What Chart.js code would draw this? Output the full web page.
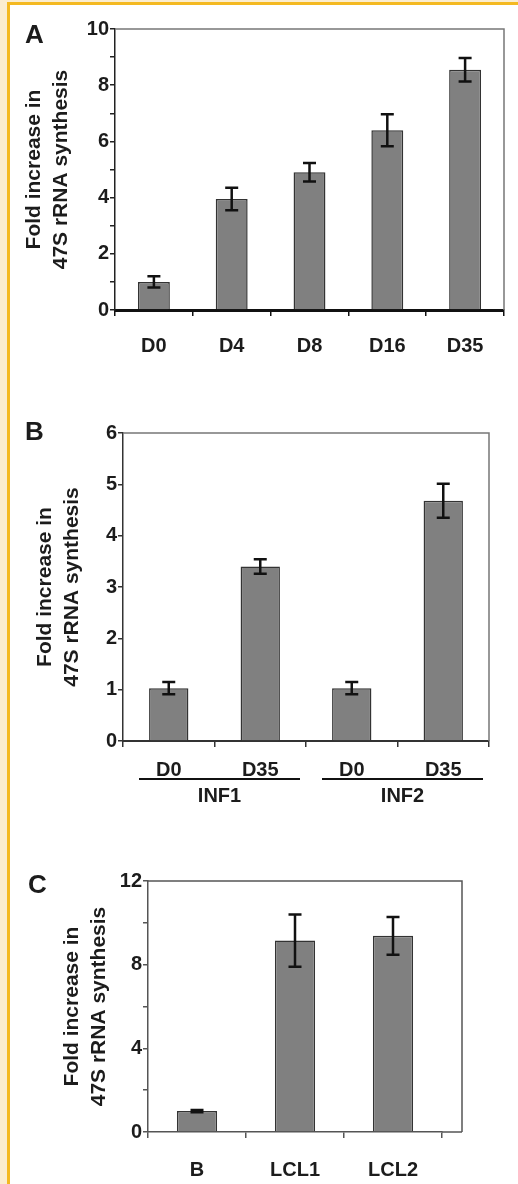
<!DOCTYPE html>
<html>
<head>
<meta charset="utf-8">
<script src="https://cdn.jsdelivr.net/npm/chart.js@4"></script>
<style>
  html, body { margin: 0; padding: 0; background: #fff; }
  body { width: 518px; height: 1184px; position: relative; overflow: hidden; }
  .cream-left { position: absolute; left: 0; top: 0; width: 7px; height: 1184px; background: #fbedcf; }
  .cream-top { position: absolute; left: 0; top: 0; width: 518px; height: 2px; background: #fbedcf; }
  .gold-left { position: absolute; left: 7px; top: 2px; width: 3px; height: 1182px; background: #f4b921; }
  .gold-top { position: absolute; left: 7px; top: 2px; width: 511px; height: 3px; background: #f4b921; }
  .panel { position: absolute; left: 0; }
  canvas { display: block; }
</style>
</head>
<body>
<div class="cream-left"></div>
<div class="cream-top"></div>
<div class="gold-left"></div>
<div class="gold-top"></div>

<div class="panel" style="top:0"><canvas id="chartA" width="518" height="380"></canvas></div>
<div class="panel" style="top:380px"><canvas id="chartB" width="518" height="430"></canvas></div>
<div class="panel" style="top:810px"><canvas id="chartC" width="518" height="374"></canvas></div>

<script>
// panel A
const catsA = ['D0', 'D4', 'D8', 'D16', 'D35'];
const valsA = [1.0, 3.95, 4.9, 6.4, 8.55];
const errA = [0.2, 0.4, 0.33, 0.57, 0.42];

// panel B
const catsB = ['D0', 'D35', 'D0', 'D35'];
const valsB = [1.03, 3.4, 1.03, 4.68];
const errB = [0.12, 0.14, 0.12, 0.33];
const groupsB = ['INF1', 'INF2'];
const groupSizeB = [2, 2];

// panel C
const catsC = ['B', 'LCL1', 'LCL2'];
const valsC = [1.0, 9.15, 9.38];
const errC = [0.05, 1.25, 0.9];

const yTitle = ['Fold increase in', '47S rRNA synthesis'];

const FONT = "'Liberation Sans', Arial, sans-serif";
const TEXT = '#1c1c1c';

// error bars drawn on top of the bars
const errorBars = {
  id: 'errorBars',
  afterDatasetsDraw(chart, args, opts) {
    const ctx = chart.ctx;
    const meta = chart.getDatasetMeta(0);
    const y = chart.scales.y;
    const vals = chart.data.datasets[0].data;
    ctx.save();
    ctx.strokeStyle = '#111';
    ctx.lineWidth = 2.5;
    meta.data.forEach((bar, i) => {
      const e = opts.err[i];
      const top = y.getPixelForValue(vals[i] + e);
      const bot = y.getPixelForValue(vals[i] - e);
      const half = 6.5;
      ctx.beginPath();
      ctx.moveTo(bar.x, top); ctx.lineTo(bar.x, bot);
      ctx.moveTo(bar.x - half, top); ctx.lineTo(bar.x + half, top);
      ctx.moveTo(bar.x - half, bot); ctx.lineTo(bar.x + half, bot);
      ctx.stroke();
    });
    ctx.restore();
  }
};

// top and right border of the plot box, plus the panel letter
const frame = {
  id: 'frame',
  beforeDatasetsDraw(chart, args, opts) {
    const { left, top, right, bottom } = chart.chartArea;
    const ext = opts.extend || 0;
    const ctx = chart.ctx;
    ctx.save();
    ctx.lineWidth = 1.5;
    ctx.strokeStyle = opts.color;
    ctx.beginPath();
    ctx.moveTo(left, top); ctx.lineTo(right + ext, top); ctx.lineTo(right + ext, bottom);
    ctx.stroke();
    if (ext) {
      // box runs a little past the last category
      ctx.beginPath();
      ctx.moveTo(right, bottom); ctx.lineTo(right + ext, bottom);
      ctx.stroke();
    }
    ctx.restore();
  },
  afterDraw(chart, args, opts) {
    const ctx = chart.ctx;
    ctx.save();
    ctx.fillStyle = TEXT;
    ctx.font = 'bold 26px ' + FONT;
    ctx.textBaseline = 'alphabetic';
    ctx.fillText(opts.letter, opts.lx, opts.ly);
    ctx.restore();
  }
};

// group labels under panel B
const groupLabels = {
  id: 'groupLabels',
  afterDraw(chart, args, opts) {
    if (!opts.names) return;
    const x = chart.scales.x;
    const ctx = chart.ctx;
    const step = x.getPixelForValue(1) - x.getPixelForValue(0);
    let start = 0;
    ctx.save();
    ctx.strokeStyle = '#111';
    ctx.lineWidth = 2;
    ctx.fillStyle = TEXT;
    ctx.font = 'bold 20px ' + FONT;
    ctx.textAlign = 'center';
    ctx.textBaseline = 'middle';
    opts.names.forEach((name, g) => {
      const end = start + opts.sizes[g] - 1;
      const x0 = x.getPixelForValue(start) - step / 2 + 16;
      const x1 = x.getPixelForValue(end) + step / 2 - 6;
      ctx.beginPath();
      ctx.moveTo(x0, opts.lineY); ctx.lineTo(x1, opts.lineY);
      ctx.stroke();
      ctx.fillText(name, (x0 + x1) / 2, opts.textY);
      start = end + 1;
    });
    ctx.restore();
  }
};

function makePanel(id, cfg) {
  const ctx = document.getElementById(id);
  return new Chart(ctx, {
    type: 'bar',
    data: {
      labels: cfg.labels,
      datasets: [{
        data: cfg.values,
        backgroundColor: '#808080',
        borderColor: '#333',
        borderWidth: 1.5,
        barPercentage: cfg.barPct,
        categoryPercentage: 1
      }]
    },
    options: {
      responsive: false,
      animation: false,
      devicePixelRatio: 1,
      layout: { padding: { top: cfg.top, right: cfg.right, left: 0, bottom: 0 } },
      plugins: {
        legend: { display: false },
        tooltip: { enabled: false },
        errorBars: { err: cfg.err },
        frame: { color: cfg.frameColor, letter: cfg.letter, lx: cfg.lx, ly: cfg.ly, extend: cfg.extend },
        groupLabels: cfg.groups || {}
      },
      scales: {
        x: {
          afterFit(scale) { scale.height = cfg.xHeight; },
          grid: { display: true, drawOnChartArea: false, tickLength: 6, color: cfg.xColor, lineWidth: 1.5 },
          border: { display: true, color: cfg.xColor, width: cfg.xWidth },
          ticks: { color: TEXT, padding: cfg.xPad, font: { family: FONT, size: 20, weight: 'bold' }, maxRotation: 0, autoSkip: false }
        },
        y: {
          min: 0,
          max: cfg.ymax,
          afterFit(scale) { scale.width = cfg.left; },
          grid: { display: true, drawOnChartArea: false, tickLength: 5, color: cfg.yColor, lineWidth: 1.5 },
          border: { display: true, color: cfg.yColor, width: 1.5 },
          ticks: {
            stepSize: cfg.step,
            padding: 1,
            color: TEXT,
            font: { family: FONT, size: 20, weight: 'bold' },
            callback: v => (v % cfg.labelEvery === 0 ? v : '')
          },
          title: {
            display: true,
            text: yTitle,
            color: TEXT,
            padding: { top: cfg.titlePad, bottom: 0 },
            font: { family: FONT, size: 21, weight: 'bold', lineHeight: 1.3 }
          }
        }
      }
    },
    plugins: [errorBars, frame, groupLabels]
  });
}

makePanel('chartA', {
  labels: catsA, values: valsA, err: errA, barPct: 0.41,
  top: 29, right: 14, left: 115, xHeight: 70, xPad: 18, xWidth: 3, xColor: '#111', yColor: '#222',
  ymax: 10, step: 1, labelEvery: 2, titlePad: 20.5, frameColor: '#777',
  letter: 'A', lx: 25, ly: 43
});

makePanel('chartB', {
  labels: catsB, values: valsB, err: errB, barPct: 0.43,
  top: 53, right: 29, left: 123, xHeight: 69, xPad: 11, xWidth: 2, xColor: '#333', yColor: '#333',
  ymax: 6, step: 1, labelEvery: 1, titlePad: 31.5, frameColor: '#777',
  letter: 'B', lx: 25, ly: 60,
  groups: { names: groupsB, sizes: groupSizeB, lineY: 399, textY: 416 }
});

makePanel('chartC', {
  labels: catsC, values: valsC, err: errC, barPct: 0.41,
  top: 71, right: 76, left: 148, xHeight: 52, xPad: 20, xWidth: 1.5, xColor: '#555', yColor: '#555',
  ymax: 12, step: 2, labelEvery: 4, titlePad: 58.5, frameColor: '#555', extend: 20,
  letter: 'C', lx: 28, ly: 83
});
</script>
</body>
</html>
